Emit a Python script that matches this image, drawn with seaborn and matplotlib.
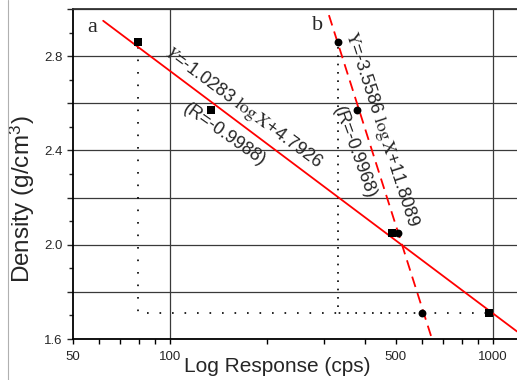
import matplotlib
matplotlib.use("Agg")
import matplotlib.pyplot as plt
import seaborn as sns
import numpy as np
from matplotlib.ticker import FixedLocator, FuncFormatter
from matplotlib.lines import Line2D

# ---- data ----
a_response = [79.5, 134, 486, 971]
a_density = [2.86, 2.57, 2.05, 1.71]
b_response = [330, 380, 508, 602]
b_density = [2.86, 2.57, 2.05, 1.71]

fit_a_x = [62, 1185]
fit_a_y = [2.95, 1.632]
fit_b_x = [310, 642]
fit_b_y = [2.974, 1.613]

x_major = [100, 1000]
x_minor = [50, 60, 70, 80, 90, 200, 300, 400, 500, 600, 700, 800, 900]
x_labeled = [50, 100, 500, 1000]
y_major = [1.6, 1.8, 2.0, 2.2, 2.4, 2.6, 2.8, 3.0]
y_minor = [1.7, 1.9, 2.1, 2.3, 2.5, 2.7, 2.9]
y_labeled = [1.6, 2.0, 2.4, 2.8]

eq_a = r"$Y$=-1.0283 $\mathrm{log\,X}$+4.7926"
r_a = "(R=-0.9988)"
eq_b = r"$\mathrm{Y}$=-3.5586 $\mathrm{log\,X}$+11.8089"
r_b = "(R=-0.9968)"

# dotted guide lines built from the points (first point down, then across to last)
base = a_density[-1]
guide_a_x = [a_response[0], a_response[0], b_response[0], np.nan, b_response[-1], a_response[-1]]
guide_a_y = [a_density[0] - 0.02, base, base, np.nan, base, base]
guide_b_x = [b_response[0], b_response[0], b_response[-1]]
guide_b_y = [b_density[0] - 0.02, base, base]

sns.set_style("ticks")
plt.rcParams["font.family"] = ["Liberation Sans", "DejaVu Sans"]
plt.rcParams["mathtext.fontset"] = "stix"

fig = plt.figure(figsize=(5.17, 3.80), dpi=100)
ax = fig.add_axes([73 / 517, 41 / 380, 444 / 517, 330 / 380])
ax.set_xscale("log")
ax.set_xlim(50, 1185)
ax.set_ylim(1.6, 3.0)

# guide (dotted) lines
ax.plot(guide_a_x, guide_a_y, color="black", lw=1.2, linestyle=(0, (1, 6.5)), zorder=2)
ax.plot(guide_b_x, guide_b_y, color="black", lw=1.2, linestyle=(0, (1, 4)), zorder=2)

# fit lines
sns.lineplot(x=fit_a_x, y=fit_a_y, ax=ax, color="red", lw=1.3, sort=False,
             estimator=None, zorder=3)
sns.lineplot(x=fit_b_x, y=fit_b_y, ax=ax, color="red", lw=1.3, sort=False,
             estimator=None, zorder=3, linestyle=(0, (6, 3.5)))

# points
sns.scatterplot(x=a_response, y=a_density, ax=ax, marker="s", s=30,
                color="black", edgecolor="black", linewidth=0, zorder=4)
sns.scatterplot(x=b_response, y=b_density, ax=ax, marker="o", s=32,
                color="black", edgecolor="black", linewidth=0, zorder=4)

# ticks & grid
ax.xaxis.set_major_locator(FixedLocator(x_major))
ax.xaxis.set_minor_locator(FixedLocator(x_minor))
ax.yaxis.set_major_locator(FixedLocator(y_major))
ax.yaxis.set_minor_locator(FixedLocator(y_minor))
fmt_x = FuncFormatter(lambda v, p: f"{int(round(v))}" if any(abs(v - t) < 1e-6 for t in x_labeled) else "")
fmt_y = FuncFormatter(lambda v, p: f"{v:.1f}" if any(abs(v - t) < 1e-6 for t in y_labeled) else "")
ax.xaxis.set_major_formatter(fmt_x)
ax.xaxis.set_minor_formatter(fmt_x)
ax.yaxis.set_major_formatter(fmt_y)
ax.grid(True, which="major", color="#3a3a3a", lw=0.9)

ax.tick_params(axis="x", which="both", direction="out", length=3.8, width=1.0,
               labelsize=9.5, pad=5, color="black")
ax.tick_params(axis="y", which="major", direction="out", length=4.3, width=1.0,
               labelsize=9.5, pad=3)
ax.tick_params(axis="y", which="minor", direction="out", length=2.9, width=1.0)

for s in ["left", "bottom"]:
    ax.spines[s].set_color("black")
    ax.spines[s].set_linewidth(1.3)
ax.spines["top"].set_color("#333333")
ax.spines["top"].set_linewidth(1.3)
ax.spines["right"].set_visible(False)

ax.set_xlabel("Log Response (cps)", fontsize=15)
ax.set_ylabel(r"Density (g/cm$^{\mathregular{3}}$)", fontsize=17.5)
ax.xaxis.set_label_coords(0.459, -0.082)
ax.xaxis.label.set_va("center")
ax.yaxis.set_label_coords(-0.115, 0.424)
ax.yaxis.label.set_va("center")

# annotations
serif = ["Liberation Serif", "DejaVu Serif"]
ax.text(57.3, 2.923, "a", family=serif, fontsize=16, ha="center", va="center")
ax.text(286.8, 2.932, "b", family=serif, fontsize=16, ha="center", va="center")
ax.text(168, 2.583, eq_a, fontsize=13, rotation=-36.5, rotation_mode="anchor",
        ha="center", va="center")
ax.text(146.7, 2.468, r_a, fontsize=13, rotation=-35, rotation_mode="anchor",
        ha="center", va="center")
ax.text(452, 2.49, eq_b, fontsize=13, rotation=-72, rotation_mode="anchor",
        ha="center", va="center")
ax.text(370.7, 2.39, r_b, fontsize=13, rotation=-70, rotation_mode="anchor",
        ha="center", va="center")

fig.add_artist(Line2D([7.5 / 517, 7.5 / 517], [0, 1], color="#b0b0b0", lw=0.8))

fig.savefig("out.png", dpi=100)
